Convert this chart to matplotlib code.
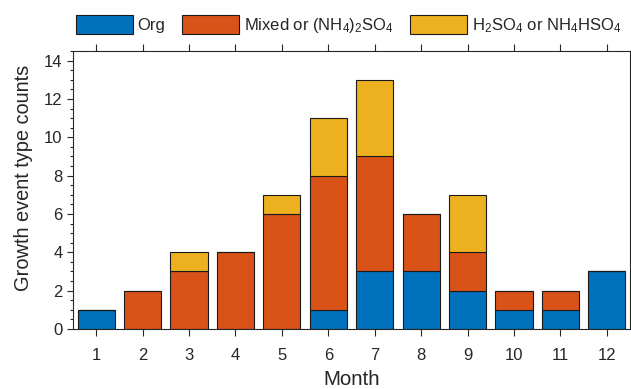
import matplotlib
matplotlib.use("Agg")
import matplotlib.pyplot as plt
import matplotlib.patches as mpatches
import numpy as np

plt.rcParams['font.family'] = ['Liberation Sans', 'DejaVu Sans']
plt.rcParams['mathtext.fontset'] = 'custom'
plt.rcParams['mathtext.rm'] = 'Liberation Sans'
plt.rcParams['mathtext.it'] = 'Liberation Sans'
plt.rcParams['mathtext.default'] = 'rm'

# data
months = np.arange(1, 13)
org = [1, 0, 0, 0, 0, 1, 3, 3, 2, 1, 1, 3]
mixed = [0, 2, 3, 4, 6, 7, 6, 3, 2, 1, 1, 0]
acid = [0, 0, 1, 0, 1, 3, 4, 0, 3, 0, 0, 0]
labels = ["Org", "Mixed or (NH$_4$)$_2$SO$_4$", "H$_2$SO$_4$ or NH$_4$HSO$_4$"]
colors = ["#0072BD", "#D95319", "#EDB120"]
dark = "#262626"

fig = plt.figure(figsize=(6.31, 3.89), dpi=100)
ax = fig.add_axes([73/631, 1-329/389, 557/631, 278/389])

bottom = np.zeros(12)
for vals, c in zip([org, mixed, acid], colors):
    ax.bar(months, vals, width=0.8, bottom=bottom, color=c, edgecolor="#1a1a1a", linewidth=0.8)
    bottom += np.array(vals)

ax.set_xlim(0.5, 12.5)
ax.set_ylim(0, 14.5)
ax.set_xticks(months)
ax.set_yticks(np.arange(0, 15, 2))
ax.set_yticks(np.arange(0, 14.6, 0.5), minor=True)
ax.tick_params(axis='x', which='major', direction='out', top=True, length=5, width=0.8,
               colors=dark, labelsize=12, pad=9)
ax.tick_params(axis='y', which='major', direction='out', length=4.5, width=0.8,
               colors=dark, labelsize=12, pad=3)
ax.tick_params(axis='y', which='minor', direction='out', length=2.5, width=0.8, colors=dark)
for s in ax.spines.values():
    s.set_color(dark)
    s.set_linewidth(0.8)

ax.set_xlabel("Month", fontsize=14.8, color=dark, labelpad=5)
ax.set_ylabel("Growth event type counts", fontsize=14.4, color=dark)
ax.yaxis.set_label_coords(-0.072, 0.545)

handles = [mpatches.Patch(facecolor=c, edgecolor="#1a1a1a", linewidth=0.8) for c in colors]
fig.legend(handles, labels, loc='center left', bbox_to_anchor=(76/631, 1-25/389),
           ncol=3, frameon=False, fontsize=12, handlelength=3.4, handleheight=1.35,
           handletextpad=0.3, columnspacing=1.0, borderpad=0, borderaxespad=0,
           labelcolor=dark)

fig.savefig("out.png", dpi=100)
